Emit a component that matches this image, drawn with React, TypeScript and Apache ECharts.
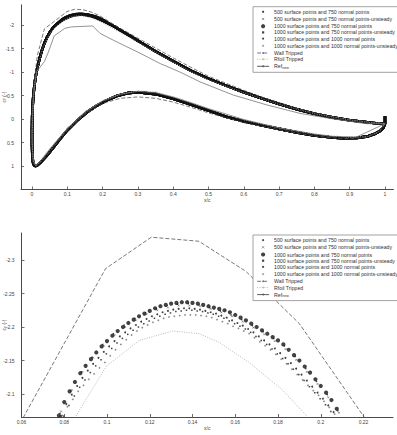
import React, { useEffect, useRef } from 'react';
import * as echarts from 'echarts';

// Series names, in legend order
const SERIES_NAMES = [
  '500 surface points and 750 normal points',
  '500 surface points and 750 normal points-unsteady',
  '1000 surface points and 750 normal points',
  '1000 surface points and 750 normal points-unsteady',
  '1000 surface points and 1000 normal points',
  '1000 surface points and 1000 normal points-unsteady',
];
const WALL = 'Wall Tripped';
const RFOIL = 'Rfoil Tripped';
const REF = 'Ref_new';

// Tick labels
const TOP_X_TICKS = [0, 0.1, 0.2, 0.3, 0.4, 0.5, 0.6, 0.7, 0.8, 0.9, 1];
const TOP_Y_TICKS = [-2, -1.5, -1, -0.5, 0, 0.5, 1];
const ZOOM_X_TICKS = [0.06, 0.08, 0.1, 0.12, 0.14, 0.16, 0.18, 0.2, 0.22];
const ZOOM_Y_TICKS = [-2.3, -2.25, -2.2, -2.15, -2.1];

// Cp along the lower surface (trailing edge -> stagnation), around the nose and
// up the suction side to the start of the suction peak (common to all grid runs)
const LOWER_AND_NOSE: number[][] = [
  [1.0, 0.1], [0.995, 0.19], [0.985, 0.26], [0.97, 0.32], [0.95, 0.37], [0.92, 0.405],
  [0.88, 0.41], [0.85, 0.395], [0.8, 0.35], [0.75, 0.285], [0.7, 0.21], [0.65, 0.135],
  [0.6, 0.05], [0.55, -0.05], [0.5, -0.18], [0.45, -0.31], [0.4, -0.43], [0.35, -0.53],
  [0.3, -0.57], [0.27, -0.55], [0.24, -0.49], [0.21, -0.39], [0.18, -0.27], [0.155, -0.14],
  [0.127, 0.04], [0.1, 0.24], [0.08, 0.42], [0.06, 0.61], [0.042, 0.78], [0.025, 0.92],
  [0.015, 0.985], [0.01, 1.0], [0.006, 0.985], [0.003, 0.93], [0.001, 0.78], [0.0, 0.55],
  [0.0, 0.25], [0.0005, -0.05], [0.002, -0.3], [0.004, -0.52], [0.007, -0.72], [0.01, -0.89],
  [0.014, -1.05], [0.018, -1.18], [0.023, -1.33], [0.028, -1.46], [0.035, -1.61],
  [0.042, -1.73], [0.05, -1.84], [0.06, -1.95], [0.068, -2.005],
];

// Suction side aft of the peak, to the trailing edge
const UPPER_AFT: number[][] = [
  [0.22, -2.02], [0.235, -1.96], [0.25, -1.89], [0.28, -1.76], [0.31, -1.62], [0.35, -1.44],
  [0.4, -1.23], [0.45, -1.03], [0.5, -0.86], [0.55, -0.71], [0.6, -0.57], [0.65, -0.44],
  [0.7, -0.32], [0.75, -0.21], [0.8, -0.11], [0.85, -0.035], [0.9, 0.025], [0.95, 0.07],
  [0.98, 0.095], [1.0, 0.105], [1.0, -0.06],
];

// Suction peak, one run per grid
const PEAK_500_750: number[][] = [
  [0.078, -2.071], [0.083, -2.104], [0.088, -2.133], [0.093, -2.155], [0.098, -2.174],
  [0.103, -2.19], [0.108, -2.203], [0.113, -2.213], [0.118, -2.221], [0.123, -2.227],
  [0.128, -2.232], [0.133, -2.234], [0.138, -2.235], [0.143, -2.233], [0.148, -2.229],
  [0.153, -2.224], [0.158, -2.218], [0.163, -2.211], [0.168, -2.202], [0.173, -2.193],
  [0.178, -2.183], [0.183, -2.172], [0.188, -2.156], [0.193, -2.138], [0.198, -2.119],
  [0.203, -2.099], [0.208, -2.075],
];
const PEAK_500_750_U: number[][] = [
  [0.0785, -2.074], [0.0835, -2.106], [0.0885, -2.133], [0.0935, -2.154], [0.0985, -2.172],
  [0.1035, -2.188], [0.1085, -2.2], [0.1135, -2.21], [0.1185, -2.219], [0.1235, -2.225],
  [0.1285, -2.229], [0.1335, -2.232], [0.1385, -2.232], [0.1435, -2.231], [0.1485, -2.227],
  [0.1535, -2.222], [0.1585, -2.216], [0.1635, -2.208], [0.1685, -2.199], [0.1735, -2.189],
  [0.1785, -2.179], [0.1835, -2.167], [0.1885, -2.151], [0.1935, -2.133], [0.1985, -2.115],
  [0.2035, -2.095], [0.2085, -2.072],
];
const PEAK_1000_750: number[][] = [
  [0.0775, -2.068], [0.08, -2.088], [0.0825, -2.104], [0.085, -2.118], [0.0875, -2.131],
  [0.09, -2.142], [0.0925, -2.152], [0.095, -2.162], [0.0975, -2.171], [0.1, -2.179],
  [0.1025, -2.187], [0.105, -2.194], [0.1075, -2.2], [0.11, -2.206], [0.1125, -2.211],
  [0.115, -2.216], [0.1175, -2.22], [0.12, -2.224], [0.1225, -2.228], [0.125, -2.231],
  [0.1275, -2.233], [0.13, -2.235], [0.1325, -2.236], [0.135, -2.237], [0.1375, -2.237],
  [0.14, -2.236], [0.1425, -2.235], [0.145, -2.233], [0.1475, -2.231], [0.15, -2.229],
  [0.1525, -2.227], [0.155, -2.225], [0.1575, -2.222], [0.16, -2.218], [0.1625, -2.214],
  [0.165, -2.21], [0.1675, -2.205], [0.17, -2.2], [0.1725, -2.195], [0.175, -2.19],
  [0.1775, -2.185], [0.18, -2.18], [0.1825, -2.174], [0.185, -2.166], [0.1875, -2.158],
  [0.19, -2.15], [0.1925, -2.141], [0.195, -2.132], [0.1975, -2.122], [0.2, -2.112],
  [0.2025, -2.102], [0.205, -2.091], [0.2075, -2.078], [0.21, -2.065],
];
const PEAK_1000_750_U: number[][] = [
  [0.0797, -2.067], [0.0822, -2.083], [0.0847, -2.097], [0.0872, -2.11], [0.0897, -2.121],
  [0.0922, -2.132], [0.0947, -2.142], [0.0972, -2.151], [0.0997, -2.16], [0.1022, -2.168],
  [0.1047, -2.176], [0.1072, -2.183], [0.1097, -2.189], [0.1122, -2.195], [0.1147, -2.2],
  [0.1172, -2.205], [0.1197, -2.209], [0.1222, -2.213], [0.1247, -2.216], [0.1272, -2.219],
  [0.1297, -2.221], [0.1322, -2.223], [0.1347, -2.224], [0.1372, -2.225], [0.1397, -2.225],
  [0.1422, -2.224], [0.1447, -2.223], [0.1472, -2.221], [0.1497, -2.219], [0.1522, -2.216],
  [0.1547, -2.213], [0.1572, -2.209], [0.1597, -2.205], [0.1622, -2.201], [0.1647, -2.197],
  [0.1672, -2.192], [0.1697, -2.186], [0.1722, -2.18], [0.1747, -2.174], [0.1772, -2.167],
  [0.1797, -2.16], [0.1822, -2.153], [0.1847, -2.145], [0.1872, -2.137], [0.1897, -2.129],
  [0.1922, -2.12], [0.1947, -2.111], [0.1972, -2.102], [0.1997, -2.093], [0.2022, -2.084],
  [0.2047, -2.074],
];
const PEAK_1000_1000: number[][] = [
  [0.0785, -2.067], [0.081, -2.085], [0.0835, -2.099], [0.086, -2.112], [0.0885, -2.124],
  [0.091, -2.135], [0.0935, -2.145], [0.096, -2.154], [0.0985, -2.163], [0.101, -2.171],
  [0.1035, -2.179], [0.106, -2.186], [0.1085, -2.192], [0.111, -2.198], [0.1135, -2.203],
  [0.116, -2.208], [0.1185, -2.212], [0.121, -2.216], [0.1235, -2.219], [0.126, -2.222],
  [0.1285, -2.224], [0.131, -2.226], [0.1335, -2.227], [0.136, -2.228], [0.1385, -2.228],
  [0.141, -2.227], [0.1435, -2.226], [0.146, -2.224], [0.1485, -2.222], [0.151, -2.22],
  [0.1535, -2.217], [0.156, -2.214], [0.1585, -2.21], [0.161, -2.206], [0.1635, -2.202],
  [0.166, -2.197], [0.1685, -2.192], [0.171, -2.186], [0.1735, -2.18], [0.176, -2.174],
  [0.1785, -2.168], [0.181, -2.161], [0.1835, -2.154], [0.186, -2.146], [0.1885, -2.138],
  [0.191, -2.129], [0.1935, -2.12], [0.196, -2.111], [0.1985, -2.102], [0.201, -2.093],
  [0.2035, -2.083], [0.206, -2.073],
];
const PEAK_1000_1000_U: number[][] = [
  [0.079, -2.068], [0.0815, -2.081], [0.084, -2.092], [0.0865, -2.104], [0.089, -2.113],
  [0.0915, -2.122], [0.094, -2.13], [0.0965, -2.139], [0.099, -2.147], [0.1015, -2.157],
  [0.104, -2.166], [0.1065, -2.174], [0.109, -2.181], [0.1115, -2.188], [0.114, -2.194],
  [0.1165, -2.199], [0.119, -2.203], [0.1215, -2.207], [0.124, -2.21], [0.1265, -2.213],
  [0.129, -2.215], [0.1315, -2.216], [0.134, -2.217], [0.1365, -2.218], [0.139, -2.218],
  [0.1415, -2.218], [0.144, -2.217], [0.1465, -2.216], [0.149, -2.214], [0.1515, -2.211],
  [0.154, -2.208], [0.1565, -2.205], [0.159, -2.201], [0.1615, -2.198], [0.164, -2.194],
  [0.1665, -2.19], [0.169, -2.184], [0.1715, -2.178], [0.174, -2.172], [0.1765, -2.166],
  [0.179, -2.159], [0.1815, -2.152], [0.184, -2.145], [0.1865, -2.137], [0.189, -2.129],
  [0.1915, -2.121], [0.194, -2.113], [0.1965, -2.105], [0.199, -2.098], [0.2015, -2.089],
  [0.204, -2.08], [0.2065, -2.07],
];
const PEAKS = [
  PEAK_500_750, PEAK_500_750_U, PEAK_1000_750,
  PEAK_1000_750_U, PEAK_1000_1000, PEAK_1000_1000_U,
];

// Reference curves
const WALL_TRIPPED: number[][] = [
  [1.0, 0.1], [0.985, 0.27], [0.95, 0.385], [0.9, 0.42], [0.85, 0.4], [0.8, 0.36], [0.7, 0.23],
  [0.6, 0.08], [0.5, -0.13], [0.45, -0.25], [0.4, -0.36], [0.35, -0.44], [0.3, -0.47],
  [0.25, -0.44], [0.2, -0.33], [0.15, -0.1], [0.1, 0.24], [0.06, 0.61], [0.03, 0.88],
  [0.012, 1.0], [0.004, 0.95], [0.0, 0.6], [0.0, 0.0], [0.005, -0.7], [0.015, -1.35],
  [0.035, -1.916], [0.056, -2.037], [0.078, -2.164], [0.0993, -2.287], [0.1207, -2.334],
  [0.143, -2.328], [0.165, -2.283], [0.19, -2.205], [0.2202, -2.066], [0.25, -1.93],
  [0.3, -1.72], [0.35, -1.51], [0.4, -1.3], [0.45, -1.1], [0.5, -0.91], [0.55, -0.76],
  [0.6, -0.61], [0.65, -0.47], [0.7, -0.35], [0.75, -0.23], [0.8, -0.13], [0.85, -0.05],
  [0.9, 0.01], [0.95, 0.06], [1.0, 0.09],
];
const RFOIL_TRIPPED: number[][] = [
  [1.0, 0.1], [0.98, 0.28], [0.95, 0.37], [0.9, 0.39], [0.8, 0.32], [0.7, 0.19], [0.6, 0.02],
  [0.5, -0.22], [0.4, -0.47], [0.35, -0.58], [0.3, -0.6], [0.25, -0.52], [0.2, -0.38],
  [0.15, -0.13], [0.1, 0.21], [0.06, 0.57], [0.03, 0.85], [0.012, 1.0], [0.004, 0.93],
  [0.0, 0.5], [0.003, -0.3], [0.008, -0.75], [0.018, -1.15], [0.03, -1.5], [0.05, -1.82],
  [0.07, -1.98], [0.0852, -2.066], [0.0997, -2.1415], [0.1151, -2.18], [0.1307, -2.194],
  [0.1432, -2.19], [0.1525, -2.177], [0.1665, -2.147], [0.1821, -2.106], [0.1938, -2.066],
  [0.22, -1.96], [0.25, -1.84], [0.3, -1.63], [0.35, -1.42], [0.4, -1.21], [0.45, -1.01],
  [0.5, -0.83], [0.6, -0.56], [0.7, -0.31], [0.8, -0.11], [0.9, 0.02], [0.95, 0.07], [1.0, 0.1],
];
const REF_NEW: number[][] = [
  [1.0, 0.1], [0.92, 0.38], [0.85, 0.37], [0.8, 0.32], [0.7, 0.19], [0.6, 0.01], [0.5, -0.22],
  [0.45, -0.35], [0.4, -0.47], [0.35, -0.56], [0.3, -0.59], [0.25, -0.53], [0.2, -0.39],
  [0.15, -0.15], [0.1, 0.2], [0.05, 0.64], [0.025, 0.88], [0.01, 0.99], [0.003, 0.85],
  [0.0, 0.3], [0.004, -0.5], [0.013, -1.01], [0.035, -1.22], [0.045, -1.4], [0.063, -1.77],
  [0.093, -1.93], [0.112, -1.96], [0.172, -1.98], [0.193, -1.82], [0.235, -1.66],
  [0.306, -1.4], [0.363, -1.18], [0.419, -1.0], [0.476, -0.79], [0.57, -0.51], [0.665, -0.3],
  [0.759, -0.12], [0.854, 0.0], [0.948, 0.1], [1.0, 0.1],
];

const FONT = '"Liberation Sans", Arial, sans-serif';
const AXIS_COLOR = '#4a4a4a';
const TEXT_COLOR = '#444';

// Marker shapes for the six grid runs
const X_PATH = 'path://M0,0L10,10M10,0L0,10';
const PLUS_PATH = 'path://M5,0L5,10M0,5L10,5';
const SQUARE_PATH = 'path://M0,0L10,0L10,10L0,10Z';
const MARKERS = [
  { symbol: 'circle', symbolSize: 1.5, itemStyle: { color: '#111' } },
  {
    symbol: X_PATH, symbolSize: 1.8,
    itemStyle: { color: 'none', borderColor: '#111', borderWidth: 0.5 },
  },
  {
    symbol: 'emptyCircle', symbolSize: 2.2,
    itemStyle: { color: '#111', borderWidth: 0.5 },
  },
  { symbol: SQUARE_PATH, symbolSize: 1.5, itemStyle: { color: '#111' } },
  { symbol: 'circle', symbolSize: 1.9, itemStyle: { color: '#111' } },
  {
    symbol: PLUS_PATH, symbolSize: 2,
    itemStyle: { color: 'none', borderColor: '#333', borderWidth: 0.5 },
  },
];

const WALL_STYLE = { color: '#555', width: 0.8, type: [4, 2] as number[] };
const RFOIL_STYLE = { color: '#a8a8a8', width: 0.8, type: [1, 1.4] as number[] };
const REF_STYLE = { color: '#777', width: 0.8, type: 'solid' };

const fmt = (v: number) => `${+Number(v).toFixed(3)}`;

function valueAxis(ticks: number[], labelMargin: number) {
  return {
    type: 'value',
    nameMoveOverlap: false,
    axisLine: { show: true, onZero: false, lineStyle: { color: AXIS_COLOR, width: 1 } },
    axisTick: {
      show: true, inside: true, length: 3, customValues: ticks,
      lineStyle: { color: AXIS_COLOR, width: 0.8 },
    },
    axisLabel: {
      customValues: ticks, fontSize: 5, color: TEXT_COLOR, fontFamily: FONT,
      margin: labelMargin, formatter: fmt,
    },
    splitLine: { show: false },
  };
}

const nameStyle = {
  fontSize: 5, color: TEXT_COLOR, fontFamily: FONT,
  rich: {
    c: { fontSize: 5, color: TEXT_COLOR, fontFamily: FONT, lineHeight: 6 },
    p: { fontSize: 3.6, color: TEXT_COLOR, fontFamily: FONT, lineHeight: 6, padding: [1.5, 0, 0, 0] },
  },
};

// Legend icons mirror the marker shapes
const LEGEND_ICONS = ['circle', X_PATH, 'emptyCircle', SQUARE_PATH, 'circle', PLUS_PATH];

function legend(top: number) {
  return {
    orient: 'vertical',
    left: 253,
    top,
    padding: [2.5, 3, 2.5, 3.7],
    itemWidth: 12,
    itemHeight: 2.2,
    itemGap: 1,
    symbolKeepAspect: true,
    borderColor: '#8c8c8c',
    borderWidth: 0.8,
    backgroundColor: '#fff',
    selectedMode: false,
    textStyle: {
      fontSize: 5.2, color: '#333', fontFamily: FONT, lineHeight: 5.2,
      rich: {
        r: { fontSize: 5.2, color: '#333', fontFamily: FONT, lineHeight: 5.2 },
        s: { fontSize: 3.6, color: '#333', fontFamily: FONT, lineHeight: 5.2, padding: [3, 0, 0, 0] },
      },
    },
    formatter: (name: string) => (name === REF ? '{r|Ref}{s|new}' : name),
    data: [
      ...SERIES_NAMES.map((name, i) => ({
        name,
        icon: LEGEND_ICONS[i],
        itemStyle: MARKERS[i].itemStyle,
      })),
      { name: WALL, lineStyle: { width: 0.8 } },
      { name: RFOIL, lineStyle: { width: 0.8 } },
      { name: REF, lineStyle: { width: 0.8, color: '#333' } },
    ],
  };
}

function buildOption() {
  const series: any[] = [];
  // Close-up of the suction peak (grid 1)
  SERIES_NAMES.forEach((name, i) => {
    series.push({
      type: 'scatter', name, xAxisIndex: 1, yAxisIndex: 1, data: PEAKS[i],
      ...MARKERS[i], clip: true,
    });
  });
  series.push(
    { type: 'line', name: WALL, xAxisIndex: 1, yAxisIndex: 1, data: WALL_TRIPPED, symbol: 'none', lineStyle: WALL_STYLE, clip: true },
    { type: 'line', name: RFOIL, xAxisIndex: 1, yAxisIndex: 1, data: RFOIL_TRIPPED, symbol: 'none', lineStyle: RFOIL_STYLE, clip: true },
    { type: 'line', name: REF, xAxisIndex: 1, yAxisIndex: 1, data: REF_NEW, symbol: 'none', lineStyle: REF_STYLE, clip: true },
  );
  // Whole chord (grid 0)
  SERIES_NAMES.forEach((name, i) => {
    series.push({
      type: 'line', name, xAxisIndex: 0, yAxisIndex: 0,
      data: [...LOWER_AND_NOSE, ...PEAKS[i], ...UPPER_AFT],
      symbol: 'none', lineStyle: { color: '#111', width: 2.6 },
    });
  });
  series.push(
    { type: 'line', name: REF, xAxisIndex: 0, yAxisIndex: 0, data: REF_NEW, symbol: 'none', lineStyle: REF_STYLE },
    { type: 'line', name: WALL, xAxisIndex: 0, yAxisIndex: 0, data: WALL_TRIPPED, symbol: 'none', lineStyle: WALL_STYLE },
    { type: 'line', name: RFOIL, xAxisIndex: 0, yAxisIndex: 0, data: RFOIL_TRIPPED, symbol: 'none', lineStyle: RFOIL_STYLE },
  );

  return {
    animation: false,
    backgroundColor: '#fff',
    grid: [
      { left: 21, top: 4.8, width: 372.4, height: 184.7, outerBoundsMode: 'none', containLabel: false },
      { left: 21.5, top: 233, width: 371.5, height: 184, outerBoundsMode: 'none', containLabel: false },
    ],
    xAxis: [
      {
        ...valueAxis(TOP_X_TICKS, 2), gridIndex: 0, min: -0.0312, max: 1.0238,
        name: 'x/c', nameLocation: 'middle', nameGap: 8, nameTextStyle: nameStyle,
      },
      {
        ...valueAxis(ZOOM_X_TICKS, 2), gridIndex: 1, min: 0.06, max: 0.2338,
        name: 'x/c', nameLocation: 'middle', nameGap: 8.5, nameTextStyle: nameStyle,
      },
    ],
    yAxis: [
      {
        ...valueAxis(TOP_Y_TICKS, 7), gridIndex: 0, inverse: true, min: -2.43, max: 1.5,
        name: '{c|c}{p|p}{c| (-)}', nameLocation: 'middle', nameGap: 14.5, nameTextStyle: nameStyle,
      },
      {
        ...valueAxis(ZOOM_Y_TICKS, 7), gridIndex: 1, inverse: true, min: -2.3403, max: -2.0657,
        name: '{c|c}{p|p}{c| (-)}', nameLocation: 'middle', nameGap: 14.5, nameTextStyle: nameStyle,
      },
    ],
    legend: [legend(6.7), legend(235)],
    series,
  };
}

export default function App() {
  const ref = useRef<HTMLDivElement>(null);
  useEffect(() => {
    if (!ref.current) return;
    const chart = echarts.init(ref.current, null, { renderer: 'svg' });
    chart.setOption(buildOption() as any);
    return () => chart.dispose();
  }, []);
  return (
    <div
      ref={ref}
      style={{ position: 'absolute', left: 0, top: 0, width: 397, height: 435, background: '#fff' }}
    />
  );
}
